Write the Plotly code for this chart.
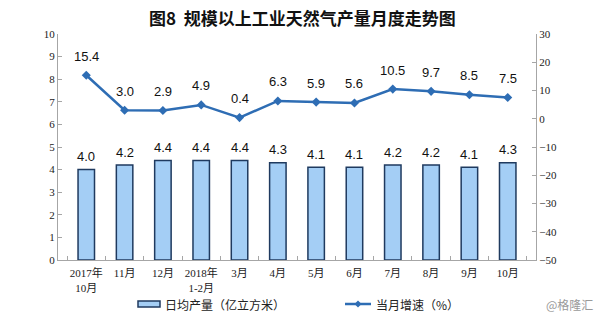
import plotly.graph_objects as go

# Monthly natural gas output data
months = ["2017年<br>10月", "11月", "12月", "2018年<br>1-2月", "3月", "4月",
          "5月", "6月", "7月", "8月", "9月", "10月"]
daily_output = [4.0, 4.2, 4.4, 4.4, 4.4, 4.3, 4.1, 4.1, 4.2, 4.2, 4.1, 4.3]
growth_rate = [15.4, 3.0, 2.9, 4.9, 0.4, 6.3, 5.9, 5.6, 10.5, 9.7, 8.5, 7.5]

bar_fill = "#A4CEF5"
bar_edge = "#1F3A5F"
line_color = "#2E6DB4"
axis_color = "#A6A6A6"
serif = "Liberation Serif, Noto Sans CJK SC, serif"
sans = "Liberation Sans, Noto Sans CJK SC, sans-serif"
cjk = "Noto Sans CJK SC, sans-serif"

# Plot area in pixels (used to place the legend row in paper space)
L, R, T, B = 58, 536, 34, 260
W, H = R - L, B - T


def px(x):
    return (x - L) / W


def py(y):
    return (B - y) / H


fig = go.Figure()

fig.add_trace(go.Bar(
    x=months, y=daily_output, name="日均产量（亿立方米）",
    marker=dict(color=bar_fill, line=dict(color=bar_edge, width=1.5)),
    yaxis="y", showlegend=False,
))

fig.add_trace(go.Scatter(
    x=months, y=growth_rate, name="当月增速（%）",
    mode="lines+markers",
    line=dict(color=line_color, width=2.5),
    marker=dict(symbol="diamond", size=7, color=line_color),
    yaxis="y2", showlegend=False,
))

annotations = []
for m, v in zip(months, daily_output):
    annotations.append(dict(x=m, y=v, xref="x", yref="y", text=f"{v:.1f}",
                            showarrow=False, yshift=13,
                            font=dict(family=sans, size=13, color="#111")))
for m, v in zip(months, growth_rate):
    annotations.append(dict(x=m, y=v, xref="x", yref="y2", text=f"{v:.1f}",
                            showarrow=False, yshift=19,
                            font=dict(family=sans, size=13, color="#111")))

# Custom legend row beneath the plot
legend_y = 304
annotations += [
    dict(x=px(163), y=py(legend_y), xref="paper", yref="paper",
         text="日均产量（亿立方米）", showarrow=False, xanchor="left",
         yanchor="middle", font=dict(family=cjk, size=12, color="#222")),
    dict(x=px(374), y=py(legend_y), xref="paper", yref="paper",
         text="当月增速（%）", showarrow=False, xanchor="left",
         yanchor="middle", font=dict(family=cjk, size=12, color="#222")),
    dict(x=px(595), y=py(legend_y), xref="paper", yref="paper",
         text="@格隆汇", showarrow=False, xanchor="right",
         yanchor="middle", font=dict(family=cjk, size=12, color="#9A9A9A")),
]

shapes = [
    dict(type="rect", xref="paper", yref="paper",
         x0=px(138), x1=px(160), y0=py(legend_y + 3), y1=py(legend_y - 3),
         fillcolor=bar_fill, line=dict(color=bar_edge, width=1.5)),
    dict(type="line", xref="paper", yref="paper",
         x0=px(345), x1=px(371), y0=py(legend_y), y1=py(legend_y),
         line=dict(color=line_color, width=2.5)),
]
# small diamond on the legend line
cx, cy, d = 358, legend_y, 3.5
shapes.append(dict(
    type="path", xref="paper", yref="paper",
    path=(f"M {px(cx - d)} {py(cy)} L {px(cx)} {py(cy - d)} "
          f"L {px(cx + d)} {py(cy)} L {px(cx)} {py(cy + d)} Z"),
    fillcolor=line_color, line=dict(color=line_color, width=0),
))

fig.update_layout(
    width=600, height=327,
    margin=dict(l=L, r=600 - R, t=T, b=327 - B),
    paper_bgcolor="white", plot_bgcolor="white",
    bargap=0.57,
    title=dict(text="<b>图8  规模以上工业天然气产量月度走势图</b>",
               x=0.504, xanchor="center", y=0.942, yanchor="middle",
               font=dict(family=cjk, size=17, color="#111")),
    xaxis=dict(showline=True, linecolor=axis_color, linewidth=1,
               ticks="inside", ticklen=4, tickcolor=axis_color,
               tickson="boundaries", showgrid=False, tickangle=0,
               ticklabelstandoff=3,
               tickfont=dict(family=serif, size=11, color="#222")),
    yaxis=dict(range=[0, 10], dtick=1, showline=True, linecolor=axis_color,
               ticks="inside", ticklen=4, tickcolor=axis_color,
               showgrid=False, zeroline=False,
               tickfont=dict(family=serif, size=11, color="#222")),
    yaxis2=dict(range=[-50, 30], dtick=10, overlaying="y", side="right",
                showline=True, linecolor=axis_color,
                ticks="inside", ticklen=4, tickcolor=axis_color,
                showgrid=False, zeroline=False,
                tickfont=dict(family=serif, size=11, color="#222")),
    annotations=annotations,
    shapes=shapes,
)

fig.write_html("out.html")
